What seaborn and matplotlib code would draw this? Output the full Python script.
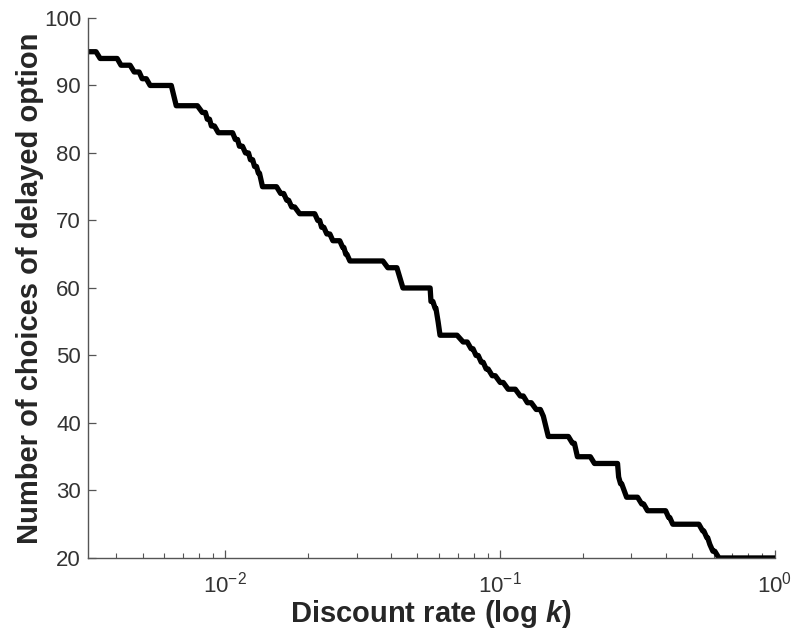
import matplotlib
matplotlib.use('Agg')
import matplotlib.pyplot as plt
import matplotlib.ticker as mticker
import seaborn as sns
import numpy as np

# plateaus of the curve: start / end in log10(k), number of delayed choices
log_k_start = [-2.50, -2.456, -2.380, -2.332, -2.303, -2.274, -2.179, -2.084, -2.066,
               -2.051, -2.026, -1.964, -1.949, -1.927, -1.909, -1.894, -1.880, -1.865,
               -1.799, -1.777, -1.759, -1.730, -1.664, -1.650, -1.631, -1.609, -1.573,
               -1.562, -1.547, -1.409, -1.354, -1.252, -1.237, -1.226, -1.219, -1.135,
               -1.106, -1.088, -1.069, -1.051, -1.029, -1.000, -0.971, -0.927, -0.901,
               -0.869, -0.843, -0.825, -0.737, -0.719, -0.657, -0.569, -0.562, -0.540,
               -0.485, -0.464, -0.387, -0.372, -0.263, -0.248, -0.237, -0.226, -0.204]
log_k_end = [-2.471, -2.394, -2.347, -2.314, -2.288, -2.197, -2.102, -2.073, -2.058,
             -2.040, -1.974, -1.956, -1.938, -1.916, -1.901, -1.887, -1.876, -1.814,
             -1.788, -1.770, -1.748, -1.675, -1.657, -1.642, -1.620, -1.584, -1.569,
             -1.558, -1.427, -1.376, -1.255, -1.245, -1.234, -1.226, -1.157, -1.120,
             -1.099, -1.080, -1.062, -1.044, -1.018, -0.989, -0.945, -0.916, -0.887,
             -0.854, -0.843, -0.752, -0.730, -0.672, -0.573, -0.569, -0.558, -0.500,
             -0.478, -0.398, -0.383, -0.277, -0.259, -0.245, -0.237, -0.219, 0.0]
choices = [95, 94, 93, 92, 91, 90, 87, 86, 85, 84, 83, 82, 81, 80, 79, 78, 77, 75,
           74, 73, 72, 71, 70, 69, 68, 67, 66, 65, 64, 63, 60, 58, 57, 55, 53, 52,
           51, 50, 49, 48, 47, 46, 45, 44, 43, 42, 41, 38, 37, 35, 34, 32, 31, 29,
           28, 27, 26, 25, 24, 23, 22, 21, 20]

y_ticks = [20, 30, 40, 50, 60, 70, 80, 90, 100]

# vertices of the curve
xs = []
ys = []
for a, b, c in zip(log_k_start, log_k_end, choices):
    xs += [10 ** a, 10 ** b]
    ys += [c, c]

sns.set_style('ticks')
plt.rcParams['font.family'] = ['Liberation Sans', 'DejaVu Sans']
plt.rcParams['mathtext.fontset'] = 'custom'
plt.rcParams['mathtext.rm'] = 'Liberation Sans'
plt.rcParams['mathtext.it'] = 'Liberation Sans:italic:bold'
plt.rcParams['mathtext.bf'] = 'Liberation Sans:bold'

fig = plt.figure(figsize=(7.96, 6.35), dpi=100)
ax = fig.add_axes([0.1106, 0.1213, 0.8630, 0.8504])

sns.lineplot(x=xs, y=ys, ax=ax, color='black', linewidth=3.8,
             sort=False, estimator=None)

ax.set_xscale('log')
ax.set_xlim(10 ** -2.5, 1)
ax.set_ylim(20, 100)
ax.set_yticks(y_ticks)
ax.xaxis.set_minor_locator(mticker.LogLocator(base=10, subs=np.arange(2, 10)))

grey = '#555555'
ax.tick_params(direction='in', colors=grey, labelcolor='#333333', labelsize=16,
               width=0.9)
ax.tick_params(which='major', length=6)
ax.tick_params(axis='x', which='major', pad=10)
ax.tick_params(axis='y', which='major', pad=5)
ax.tick_params(which='minor', length=3.5, direction='in', color=grey, width=0.8)
for s in ['left', 'bottom']:
    ax.spines[s].set_color(grey)
    ax.spines[s].set_linewidth(1.0)
sns.despine(ax=ax)

ax.set_xlabel('Discount rate (log $k$)', fontsize=21, fontweight='bold', labelpad=0)
ax.set_ylabel('Number of choices of delayed option', fontsize=21,
              fontweight='bold', labelpad=0)

fig.savefig('out.png', dpi=100)
